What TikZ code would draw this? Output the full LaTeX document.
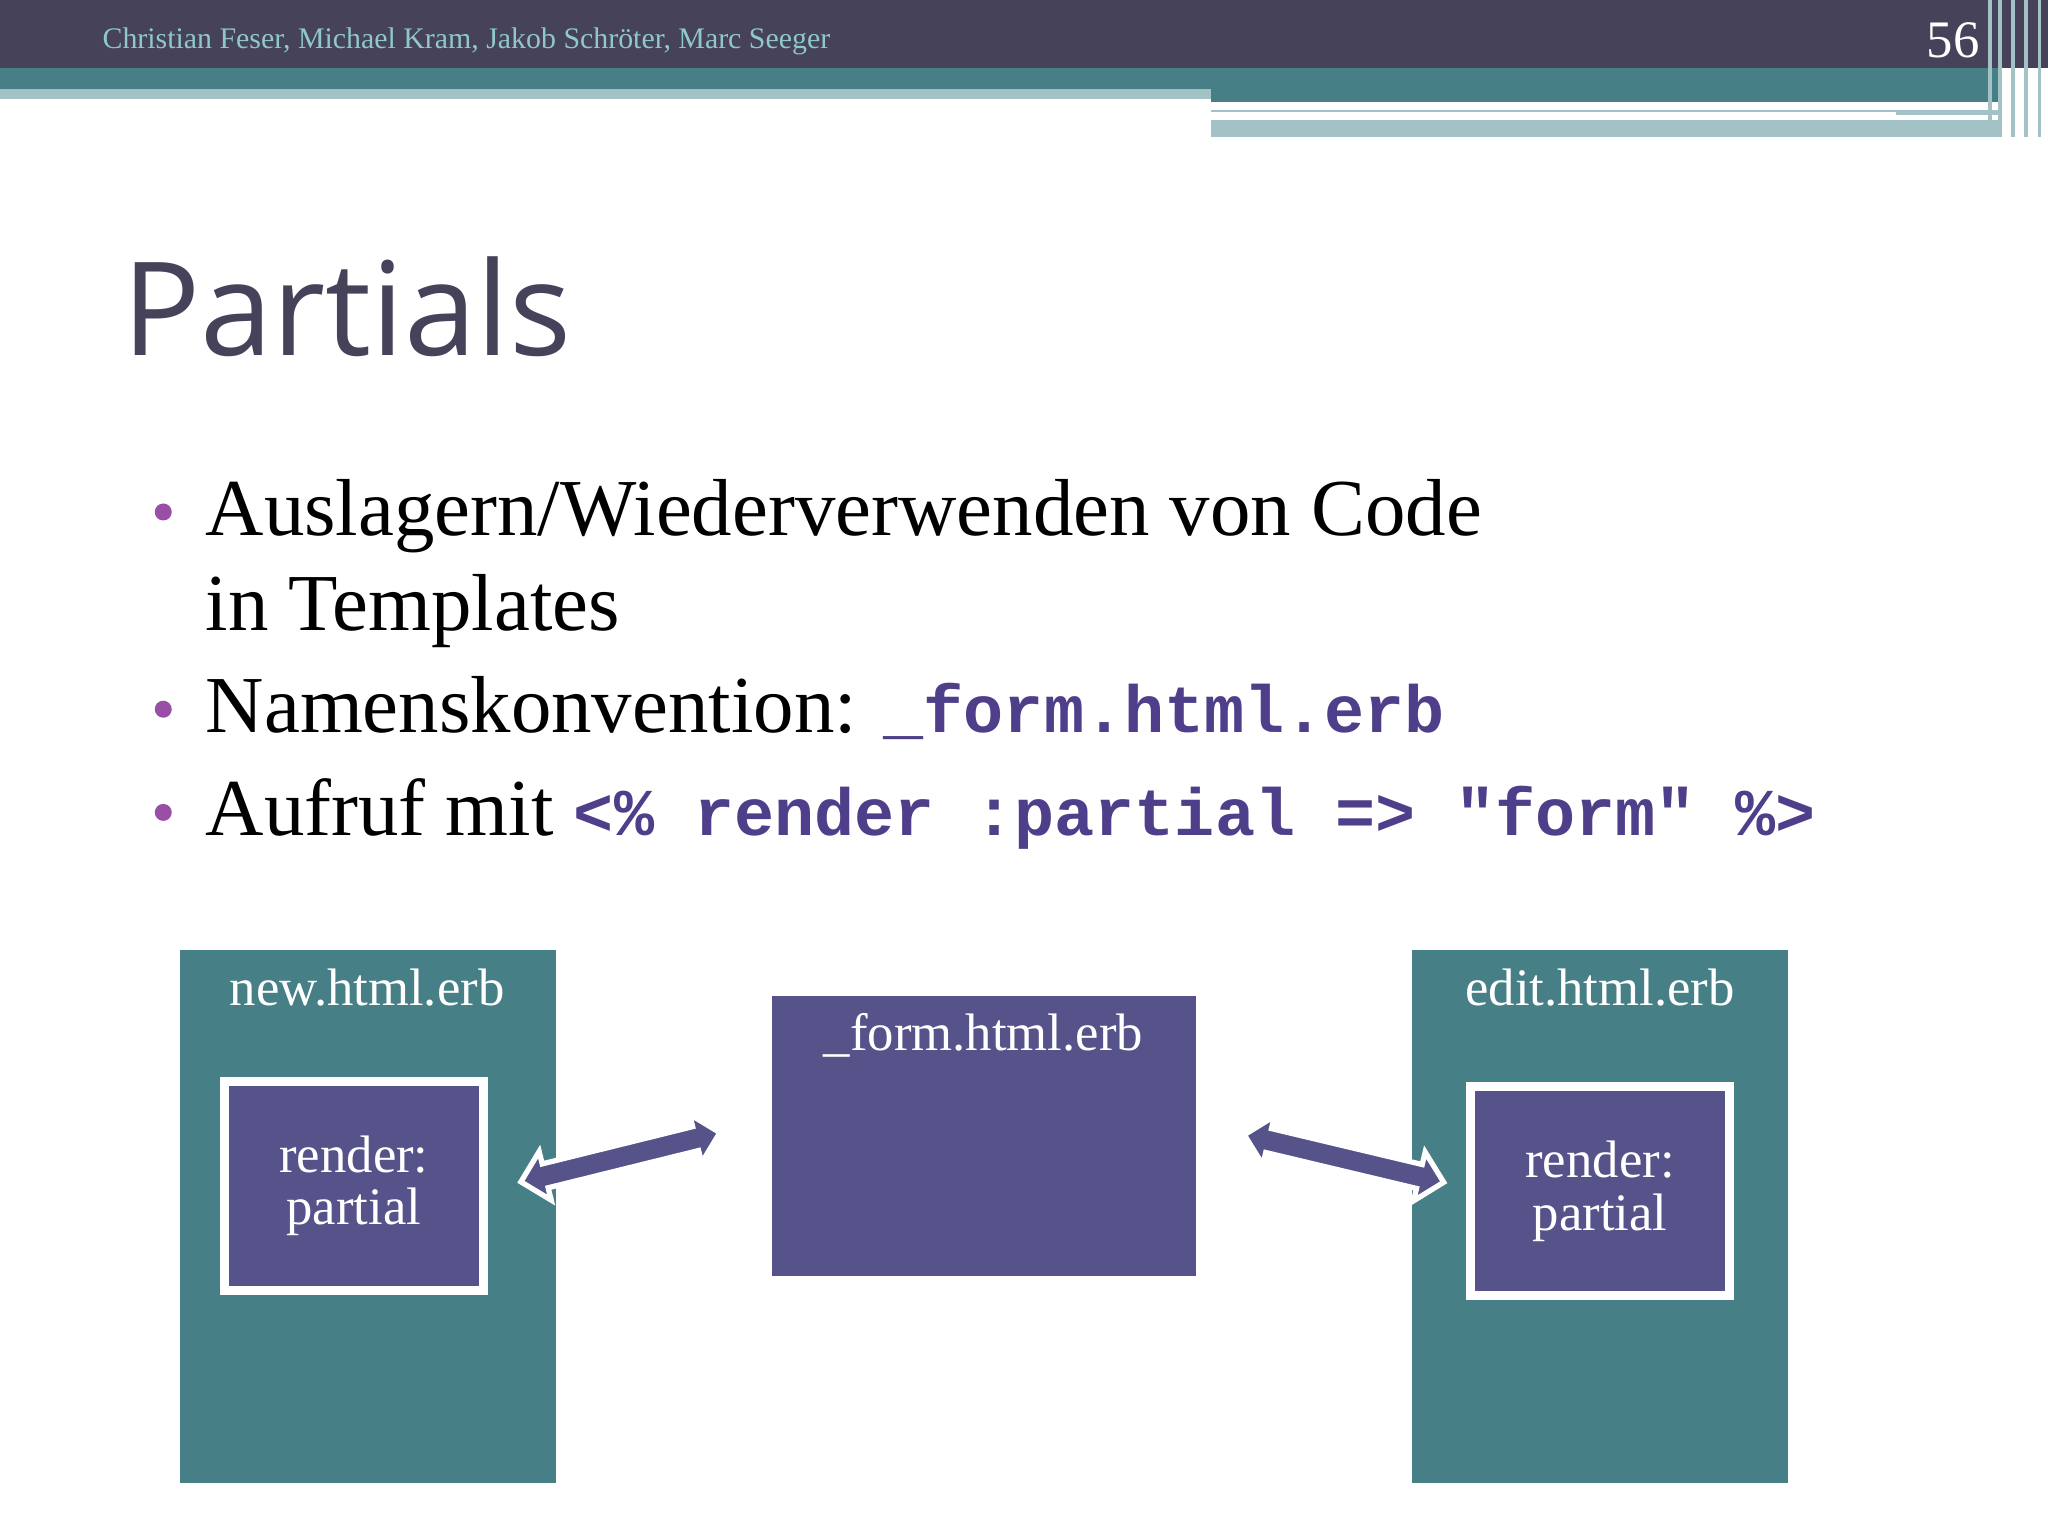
\documentclass[tikz,border=0pt]{standalone}
\usepackage{fontspec}
\setmainfont{Liberation Serif}
\newfontfamily\titlefont{Open Sans}
\newfontfamily\codefont{Liberation Mono}
\usetikzlibrary{shapes.arrows,shadows}
\definecolor{topbar}{HTML}{45425A}
\definecolor{tealc}{HTML}{467F86}
\definecolor{ltealc}{HTML}{A3C2C6}
\definecolor{purp}{HTML}{56528A}
\definecolor{codec}{HTML}{4F3F8A}
\definecolor{bulc}{HTML}{9A4FA6}
\definecolor{headc}{HTML}{8FC7CC}
\tikzset{
 outer/.style={fill=tealc,draw=white,line width=2pt,drop shadow={shadow xshift=1pt,shadow yshift=-1pt,opacity=0.3}},
 inner/.style={fill=purp,draw=white,line width=2.5pt,drop shadow={shadow xshift=1pt,shadow yshift=-1pt,opacity=0.3}},
 lbl/.style={text=white,font=\fontsize{15}{17}\selectfont,align=center},
 darr/.style={double arrow,fill=purp,draw=white,line width=1.5pt,minimum width=0.5cm,double arrow head extend=0.12cm,inner sep=0.09cm,minimum height=2.05cm},
 body/.style={anchor=base west,font=\fontsize{23}{26}\selectfont,inner sep=0},
 bul/.style={circle,fill=bulc,inner sep=0,minimum size=0.17cm},
}
\begin{document}
\begin{tikzpicture}[x=0.01306cm,y=-0.01306cm]
\useasboundingbox (0,0) rectangle (1568,1176);
\fill[white] (0,0) rectangle (1568,1176);
% header
\fill[topbar] (0,0) rectangle (1568,52);
\fill[tealc] (0,52) rectangle (1530,68);
\fill[ltealc] (0,68) rectangle (927,76);
\fill[tealc] (927,68) rectangle (1530,78);
\fill[ltealc] (927,84) rectangle (1530,88);
\fill[ltealc] (927,92) rectangle (1530,105);
\fill[white] (927,86) rectangle (1452,90);
\foreach \x in {1522,1530,1540,1550,1560} \fill[ltealc] (\x,0) rectangle (\x+3,105);
\node[anchor=base west,text=headc,font=\fontsize{8.5}{10}\selectfont,inner sep=0] (hdr) at (78,37) {Christian Feser, Michael Kram, Jakob Schröter, Marc Seeger};
\node[anchor=base east,text=white,font=\fontsize{15}{17}\selectfont,inner sep=0] (pg) at (1516,44) {56};
% title
\node[anchor=base west,text=topbar,font=\titlefont\fontsize{37}{40}\selectfont,inner sep=0] (title) at (93,272) {Partials};
% bullets
\node[bul] (b1) at (125,392) {};
\node[body] (t1) at (157,410) {Auslagern/Wiederverwenden von Code};
\node[body] (t1b) at (157,483) {in Templates};
\node[bul] (b2) at (125,543) {};
\node[body] (t2) at (157,561) {Namenskonvention: {\codefont\bfseries\color{codec}\fontsize{19}{22}\selectfont \_form.html.erb}};
\node[bul] (b3) at (125,622) {};
\node[body] (t3) at (157,640) {Aufruf mit {\codefont\bfseries\color{codec}\fontsize{19}{22}\selectfont <\% render :partial => "form" \%>}};
% boxes
\draw[outer] (135,725) rectangle (428,1138);
\node[lbl] (newl) at (281,756) {new.html.erb};
\draw[inner] (172,828) rectangle (370,988);
\node[lbl] (r1) at (271,908) {render:\\[-2pt]partial};
\draw[outer,fill=purp] (588,760) rectangle (918,980);
\node[lbl] (forml) at (753,793) {\_form.html.erb};
\draw[outer] (1078,725) rectangle (1372,1138);
\node[lbl] (editl) at (1225,756) {edit.html.erb};
\draw[inner] (1126,832) rectangle (1324,992);
\node[lbl] (r2) at (1225,912) {render:\\[-2pt]partial};
% arrows
\node[darr,rotate=13.9] (a1) at (475,886) {};
\node[darr,rotate=-13.4] (a2) at (1029,887) {};
\end{tikzpicture}
\end{document}
